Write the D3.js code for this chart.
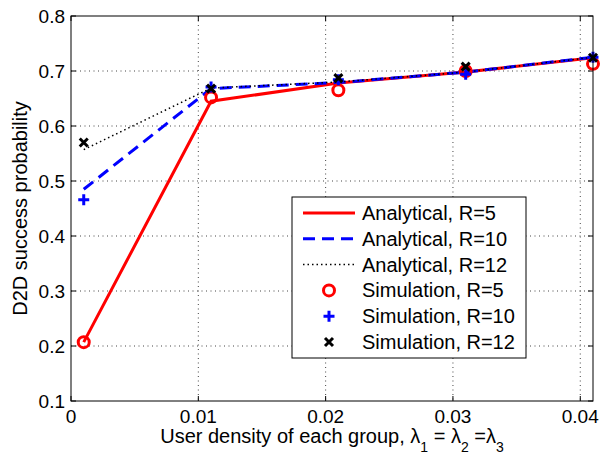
<!DOCTYPE html>
<html>
<head>
<meta charset="utf-8">
<script src="https://cdnjs.cloudflare.com/ajax/libs/d3/7.8.5/d3.min.js"></script>
<style>
  body { margin: 0; background: #fff; }
  text { font-family: "Liberation Sans", Arial, Helvetica, sans-serif; fill: #000; }
</style>
</head>
<body>
<script>
// user density values (x) and success probabilities
var density = [0.001, 0.011, 0.021, 0.031, 0.041];
var anaR5  = [0.207, 0.645, 0.678, 0.698, 0.724];
var anaR10 = [0.485, 0.668, 0.679, 0.698, 0.725];
var anaR12 = [0.557, 0.669, 0.680, 0.698, 0.725];
var simR5  = [0.207, 0.652, 0.665, 0.700, 0.713];
var simR10 = [0.466, 0.671, 0.684, 0.694, 0.725];
var simR12 = [0.570, 0.668, 0.687, 0.708, 0.724];

var xTicks = [0, 0.01, 0.02, 0.03, 0.04];
var xTickLabels = ["0", "0.01", "0.02", "0.03", "0.04"];
var yTicks = [0.1, 0.2, 0.3, 0.4, 0.5, 0.6, 0.7, 0.8];
var yTickLabels = ["0.1", "0.2", "0.3", "0.4", "0.5", "0.6", "0.7", "0.8"];

var legendLabels = ["Analytical, R=5", "Analytical, R=10", "Analytical, R=12",
                    "Simulation, R=5", "Simulation, R=10", "Simulation, R=12"];

var W = 608, H = 457;
var plotL = 71, plotR = 593, plotT = 16, plotB = 401;   // axes box
var fontSize = 19;     // tick labels
var labelSize = 20;    // axis labels and legend

var svg = d3.select("body").append("svg")
    .attr("width", W)
    .attr("height", H);

svg.append("rect").attr("width", W).attr("height", H).style("fill", "#fff");

var x = d3.scaleLinear().domain([0, 0.041]).range([plotL, plotR]);
var y = d3.scaleLinear().domain([0.1, 0.8]).range([plotB, plotT]);

// dotted grid
svg.selectAll(".gx").data(xTicks.slice(1)).enter().append("line")
    .attr("x1", d => x(d)).attr("x2", d => x(d))
    .attr("y1", plotT).attr("y2", plotB)
    .attr("stroke", "#444").attr("stroke-width", 1)
    .attr("stroke-dasharray", "1,3.5");
svg.selectAll(".gy").data(yTicks.slice(1, -1)).enter().append("line")
    .attr("x1", plotL).attr("x2", plotR)
    .attr("y1", d => y(d)).attr("y2", d => y(d))
    .attr("stroke", "#444").attr("stroke-width", 1)
    .attr("stroke-dasharray", "1,3.5");

// inward ticks on all four sides
var tl = 5;
svg.selectAll(".tb").data(xTicks).enter().append("line")
    .attr("x1", d => x(d)).attr("x2", d => x(d))
    .attr("y1", plotB).attr("y2", plotB - tl)
    .attr("stroke", "#000");
svg.selectAll(".tt").data(xTicks).enter().append("line")
    .attr("x1", d => x(d)).attr("x2", d => x(d))
    .attr("y1", plotT).attr("y2", plotT + tl)
    .attr("stroke", "#000");
svg.selectAll(".tl").data(yTicks).enter().append("line")
    .attr("x1", plotL).attr("x2", plotL + tl)
    .attr("y1", d => y(d)).attr("y2", d => y(d))
    .attr("stroke", "#000");
svg.selectAll(".tr").data(yTicks).enter().append("line")
    .attr("x1", plotR).attr("x2", plotR - tl)
    .attr("y1", d => y(d)).attr("y2", d => y(d))
    .attr("stroke", "#000");

// tick labels
svg.selectAll(".xl").data(xTicks).enter().append("text")
    .attr("x", d => x(d)).attr("y", plotB + 22)
    .attr("text-anchor", "middle")
    .style("font-size", fontSize + "px")
    .text((d, i) => xTickLabels[i]);
svg.selectAll(".yl").data(yTicks).enter().append("text")
    .attr("x", plotL - 6).attr("y", d => y(d) + 7)
    .attr("text-anchor", "end")
    .style("font-size", fontSize + "px")
    .text((d, i) => yTickLabels[i]);

// series lines
var line = d3.line().x((d, i) => x(density[i])).y(d => y(d));

svg.append("path").datum(anaR5).attr("d", line)
    .attr("fill", "none").attr("stroke", "#ff0000").attr("stroke-width", 3);
svg.append("path").datum(anaR10).attr("d", line)
    .attr("fill", "none").attr("stroke", "#0000ff").attr("stroke-width", 3)
    .attr("stroke-dasharray", "12,7");
svg.append("path").datum(anaR12).attr("d", line)
    .attr("fill", "none").attr("stroke", "#000").attr("stroke-width", 1.5)
    .attr("stroke-dasharray", "1.5,3");

// markers
function circleMark(g, cx, cy) {
  g.append("circle").attr("cx", cx).attr("cy", cy).attr("r", 5.5)
    .attr("fill", "none").attr("stroke", "#ff0000").attr("stroke-width", 3);
}
function plusMark(g, cx, cy) {
  var s = 5.5;
  g.append("path").attr("d", "M" + (cx - s) + "," + cy + "H" + (cx + s) + "M" + cx + "," + (cy - s) + "V" + (cy + s))
    .attr("stroke", "#0000ff").attr("stroke-width", 3).attr("fill", "none");
}
function crossMark(g, cx, cy) {
  var s = 4;
  g.append("path").attr("d", "M" + (cx - s) + "," + (cy - s) + "L" + (cx + s) + "," + (cy + s) +
      "M" + (cx - s) + "," + (cy + s) + "L" + (cx + s) + "," + (cy - s))
    .attr("stroke", "#000").attr("stroke-width", 3).attr("fill", "none");
}

var marks = svg.append("g");
simR5.forEach((v, i) => circleMark(marks, x(density[i]), y(v)));
simR10.forEach((v, i) => plusMark(marks, x(density[i]), y(v)));
simR12.forEach((v, i) => crossMark(marks, x(density[i]), y(v)));

// axes box
svg.append("rect")
    .attr("x", plotL).attr("y", plotT)
    .attr("width", plotR - plotL).attr("height", plotB - plotT)
    .attr("fill", "none").attr("stroke", "#000").attr("stroke-width", 1);

// axis labels
svg.append("text")
    .attr("transform", "translate(27," + ((plotT + plotB) / 2) + ") rotate(-90)")
    .attr("text-anchor", "middle")
    .style("font-size", labelSize + "px")
    .text("D2D success probability");

var xl = svg.append("text")
    .attr("x", (plotL + plotR) / 2).attr("y", 443)
    .attr("text-anchor", "middle")
    .style("font-size", labelSize + "px");
xl.append("tspan").text("User density of each group, \u03bb");
xl.append("tspan").attr("dy", 9).style("font-size", "14px").text("1");
xl.append("tspan").attr("dy", -9).text(" = \u03bb");
xl.append("tspan").attr("dy", 9).style("font-size", "14px").text("2");
xl.append("tspan").attr("dy", -9).text(" =\u03bb");
xl.append("tspan").attr("dy", 9).style("font-size", "14px").text("3");

// legend
var lx = 292, ly = 197, lw = 234, lh = 161, rowH = 25.8;
var leg = svg.append("g");
leg.append("rect").attr("x", lx).attr("y", ly).attr("width", lw).attr("height", lh)
    .attr("fill", "#fff").attr("stroke", "#000").attr("stroke-width", 1);

var rowY = legendLabels.map((d, i) => ly + 16 + i * rowH);
leg.append("line").attr("x1", 303).attr("x2", 355).attr("y1", rowY[0]).attr("y2", rowY[0])
    .attr("stroke", "#ff0000").attr("stroke-width", 3);
leg.append("line").attr("x1", 303).attr("x2", 355).attr("y1", rowY[1]).attr("y2", rowY[1])
    .attr("stroke", "#0000ff").attr("stroke-width", 3).attr("stroke-dasharray", "12,7");
leg.append("line").attr("x1", 303).attr("x2", 355).attr("y1", rowY[2]).attr("y2", rowY[2])
    .attr("stroke", "#000").attr("stroke-width", 1.5).attr("stroke-dasharray", "1.5,3");
circleMark(leg, 329, rowY[3]);
plusMark(leg, 329, rowY[4]);
crossMark(leg, 329, rowY[5]);

leg.selectAll(".lt").data(legendLabels).enter().append("text")
    .attr("x", 362).attr("y", (d, i) => rowY[i] + 7)
    .style("font-size", labelSize + "px")
    .text(d => d);
</script>
</body>
</html>
